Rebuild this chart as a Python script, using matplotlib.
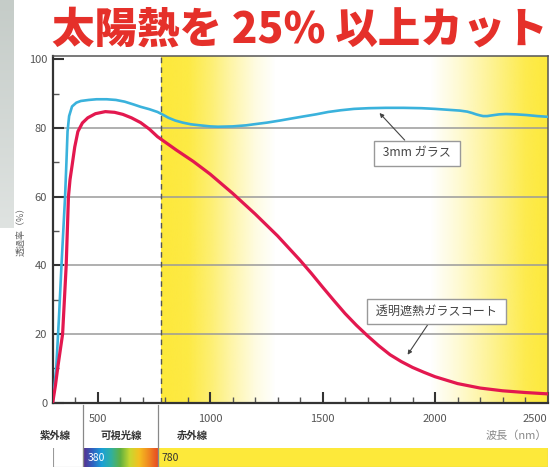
import numpy as np
import matplotlib
matplotlib.use("Agg")
import matplotlib.pyplot as plt
from matplotlib.lines import Line2D
from matplotlib.patches import Rectangle
from matplotlib.colors import LinearSegmentedColormap, to_rgb

plt.rcParams['font.family'] = ['Noto Sans CJK JP', 'DejaVu Sans']

# ---------------- data ----------------
glass_nm = [300, 308, 316, 328, 339, 347, 355, 361, 366, 373, 386, 405, 425, 460, 495,
            540, 581, 620, 659, 691, 730, 766, 790, 815, 845, 878, 915, 956, 1000,
            1035, 1100, 1159, 1205, 1253, 1310, 1362, 1415, 1470, 1525, 1581, 1640,
            1705, 1780, 1860, 1940, 2000, 2066, 2110, 2143, 2165, 2183, 2200, 2214,
            2232, 2252, 2285, 2315, 2360, 2408, 2455, 2500]
glass_t = [0, 5, 10.5, 25, 40, 50, 60, 70, 79, 83.5, 86.3, 87.4, 87.9, 88.2, 88.4,
           88.4, 88.2, 87.7, 86.9, 86.2, 85.5, 84.7, 83.9, 83.0, 82.2, 81.6, 81.1,
           80.8, 80.5, 80.4, 80.5, 80.8, 81.2, 81.6, 82.2, 82.8, 83.4, 84.0, 84.7,
           85.2, 85.6, 85.8, 85.9, 85.9, 85.8, 85.6, 85.3, 85.1, 84.8, 84.4, 84.0,
           83.7, 83.5, 83.5, 83.7, 84.0, 84.1, 84.0, 83.8, 83.5, 83.3]

coat_nm = [300, 312, 323, 334, 344, 352, 360, 365, 370, 377, 386, 398, 412, 432, 456,
           490, 534, 575, 612, 650, 691, 730, 766, 850, 925, 1000, 1100, 1200, 1300,
           1400, 1450, 1500, 1550, 1600, 1650, 1700, 1750, 1800, 1850, 1900, 1950,
           2000, 2100, 2200, 2300, 2400, 2500]
coat_t = [0, 5, 10.5, 15.5, 20, 30, 40, 50, 60, 65, 69, 74.5, 79, 81.5, 83.0,
          84.2, 84.8, 84.6, 84.0, 83.0, 81.6, 79.7, 77.5, 73.6, 70.3, 66.6, 61.0,
          55.0, 48.6, 41.5, 37.7, 33.7, 29.8, 26.0, 22.6, 19.5, 16.6, 14.0, 12.0,
          10.3, 8.9, 7.6, 5.6, 4.3, 3.5, 3.0, 2.6]

series_names = ['3mm ガラス', '透明遮熱ガラスコート']
x_ticks = [500, 1000, 1500, 2000, 2500]
y_ticks = [0, 20, 40, 60, 80, 100]
title = '太陽熱を 25% 以上カット'
region_labels = ['紫外線', '可視光線', '赤外線']
band_labels = ['380', '780']
ir_start = 780

# ---------------- figure ----------------
W, H = 550, 467
fig = plt.figure(figsize=(W / 100, H / 100), dpi=100)
fig.patch.set_facecolor('white')

def fx(px):
    return px / W

def fy(py):
    return 1 - py / H

# left gray panel artifact
gp = fig.add_axes([0, fy(228), fx(14), 228 / H])
grad = np.linspace(0, 1, 100)[:, None]
gcm = LinearSegmentedColormap.from_list('g', ['#dfe3e1', '#c5ccc8'])
gp.imshow(grad, cmap=gcm, aspect='auto', extent=[0, 1, 0, 1], origin='lower')
gp.axis('off')

ax_l, ax_r, ax_t, ax_b = 52.7, 547.5, 56.0, 402.8
ax = fig.add_axes([fx(ax_l), fy(ax_b), (ax_r - ax_l) / W, (ax_b - ax_t) / H])
ax.set_xlim(300, 2500)
ax.set_ylim(0, 101)

# yellow infrared background
yellow = to_rgb('#fde93a')
xs = np.linspace(ir_start, 2500, 600)
alpha = np.interp(xs, [780, 900, 1000, 1100, 1200, 1290, 1980, 2100, 2250, 2400, 2500],
                  [1, 0.95, 0.72, 0.42, 0.15, 0, 0, 0.22, 0.55, 0.9, 1])
img = np.zeros((1, len(xs), 4))
img[0, :, :3] = yellow
img[0, :, 3] = alpha
ax.imshow(img, extent=[ir_start, 2500, 0, 101], aspect='auto', zorder=0,
          interpolation='bilinear')

# grid
for yv in y_ticks[1:-1]:
    ax.axhline(yv, color='#9a9a9a', lw=1.1, zorder=1)

ax.axvline(ir_start, color='#555555', lw=1.0, ls=(0, (4, 3)), zorder=2)

ax.plot(glass_nm, glass_t, color='#3ab2dc', lw=1.9, zorder=3,
        solid_capstyle='round', solid_joinstyle='round')
ax.plot(coat_nm, coat_t, color='#e3184f', lw=2.3, zorder=4,
        solid_capstyle='round', solid_joinstyle='round')

for s in ax.spines.values():
    s.set_color('#555555')
    s.set_linewidth(1.1)
ax.spines['left'].set_linewidth(1.6)
ax.spines['bottom'].set_linewidth(1.6)
ax.spines['left'].set_color('#333333')
ax.spines['bottom'].set_color('#333333')

ax.set_yticks(y_ticks)
ax.set_yticks(range(10, 100, 20), minor=True)
ax.set_xticks(x_ticks)
ax.set_xticks([v for v in range(400, 2500, 100) if v not in x_ticks], minor=True)
ax.tick_params(axis='both', which='major', direction='in', length=8, width=1.5,
               color='#333333', labelcolor='#555555', labelsize=8)
ax.tick_params(axis='both', which='minor', direction='in', length=4, width=1.0,
               color='#555555')
ax.tick_params(axis='x', pad=8)
ax.tick_params(axis='y', pad=4)
for lbl in ax.get_xticklabels():
    if lbl.get_text() == '2500':
        lbl.set_horizontalalignment('right')

ax.text(-0.065, 0.5, '透過率（%）', transform=ax.transAxes, rotation=90,
        ha='center', va='center', fontsize=6.5, color='#666666')

# annotations
box = dict(boxstyle='square,pad=0.5', fc='white', ec='#999999', lw=1.0)
arr = dict(arrowstyle='-|>', color='#444444', lw=0.8, mutation_scale=6,
           shrinkA=0, shrinkB=0)
ax.annotate(' ' + series_names[0] + ' ', xy=(1753, 84.4), xytext=(1919, 72.7),
            fontsize=8.7, color='#444444', ha='center', va='center',
            bbox=box, arrowprops=arr, zorder=6)
ax.annotate(' ' + series_names[1] + ' ', xy=(1878, 14.0), xytext=(2008, 26.7),
            fontsize=8.7, color='#444444', ha='center', va='center',
            bbox=box, arrowprops=arr, zorder=6)

# title
fig.text(fx(300), fy(30), title, ha='center', va='center', fontsize=30.6,
         fontweight='black', color='#e5302a')

# region labels below axis
ly = fy(436)
fig.text(fx(55), ly, region_labels[0], ha='center', va='center', fontsize=7.5,
         color='#333333', fontweight='bold')
fig.text(fx(121), ly, region_labels[1], ha='center', va='center', fontsize=7.5,
         color='#333333', fontweight='bold')
fig.text(fx(192), ly, region_labels[2], ha='center', va='center', fontsize=7.5,
         color='#333333', fontweight='bold')
fig.text(fx(547), ly, '波長（nm）', ha='right', va='center', fontsize=8,
         color='#888888')

# separators
fig.add_artist(Line2D([fx(83.3), fx(83.3)], [fy(405), 0], color='#888888', lw=0.9))
fig.add_artist(Line2D([fx(157.5), fx(157.5)], [fy(405), 0], color='#888888', lw=0.9))

# bottom band
bx = fig.add_axes([fx(ax_l), 0, (ax_r - ax_l) / W, 19 / H])
bx.set_xlim(0, 1)
bx.set_ylim(0, 1)
bx.axis('off')
w1 = (83.3 - ax_l) / (ax_r - ax_l)
w2 = (157.5 - ax_l) / (ax_r - ax_l)
bx.add_patch(Rectangle((0, 0), w1, 1.2, fc='white', ec='#999999', lw=0.8))
spec = LinearSegmentedColormap.from_list('spec', ['#5a2d8c', '#3060c0', '#1aa0d8', '#30b0a0',
                                                  '#60b040', '#c8d830', '#f5c020',
                                                  '#f08a20', '#e84a22'])
bx.imshow(np.linspace(0, 1, 256)[None, :], cmap=spec, extent=[w1, w2, 0, 1],
          aspect='auto')
bx.add_patch(Rectangle((w2, 0), 1 - w2, 1.2, fc='#fde93a', ec='#999999', lw=0.8))
bx.set_ylim(0, 1)
bx.text(w1 + 0.008, 0.45, band_labels[0], color='white', fontsize=7.5, va='center')
bx.text(w2 + 0.008, 0.45, band_labels[1], color='#333333', fontsize=7.5, va='center')

fig.savefig('out.png', dpi=100)
